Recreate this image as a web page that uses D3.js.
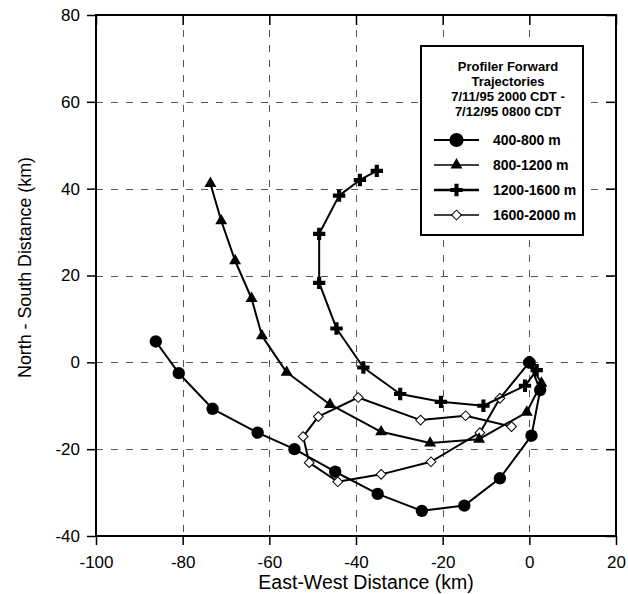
<!DOCTYPE html>
<html>
<head>
<meta charset="utf-8">
<script src="https://cdn.jsdelivr.net/npm/d3@7"></script>
<style>
  html, body { margin: 0; padding: 0; background: #fff; }
  svg { display: block; }
  text { font-family: "Liberation Sans", Arial, sans-serif; fill: #000; }
</style>
</head>
<body>
<div id="chart"></div>
<script>
// Forward trajectories of profiler-layer air parcels, positions in km from the profiler site.
// Each layer: [east-west, north-south] pairs in time order, starting at the origin.
const layer400to800 = [
  [0, 0], [2.5, -6.4], [0.5, -16.9], [-6.8, -26.7], [-15.0, -33.0], [-24.8, -34.2],
  [-35.0, -30.3], [-44.8, -25.2], [-54.2, -20.0], [-62.7, -16.2], [-73.1, -10.7],
  [-80.9, -2.5], [-86.2, 4.8]
];
const layer800to1200 = [
  [0, 0], [2.8, -4.8], [-0.6, -11.5], [-11.6, -17.7], [-22.9, -18.6], [-34.2, -16.0],
  [-46.0, -9.7], [-56.0, -2.3], [-61.7, 6.1], [-64.1, 14.7], [-67.9, 23.4],
  [-71.1, 32.6], [-73.6, 41.2]
];
const layer1200to1600 = [
  [0, 0], [1.7, -1.8], [-1.0, -5.4], [-10.6, -10.0], [-20.4, -9.1], [-29.8, -7.3],
  [-38.3, -1.2], [-44.5, 7.8], [-48.5, 18.3], [-48.5, 29.6], [-43.9, 38.4],
  [-39.1, 42.0], [-35.2, 44.1]
];
const layer1600to2000 = [
  [0, 0], [-6.8, -8.3], [-11.4, -16.2], [-22.7, -22.9], [-34.2, -25.8], [-44.2, -27.5],
  [-50.8, -23.1], [-52.2, -17.1], [-48.7, -12.5], [-39.5, -8.1], [-25.1, -13.3],
  [-14.7, -12.3], [-4.1, -14.8]
];

const seriesNames = ["400-800 m", "800-1200 m", "1200-1600 m", "1600-2000 m"];
const xTicks = [-100, -80, -60, -40, -20, 0, 20];
const yTicks = [-40, -20, 0, 20, 40, 60, 80];
const legendTitle = ["Profiler Forward", "Trajectories", "7/11/95 2000 CDT -", "7/12/95 0800 CDT"];
const xTitle = "East-West Distance (km)";
const yTitle = "North - South Distance (km)";

const W = 628, H = 594;
const plot = { left: 96, right: 616, top: 15, bottom: 536 };

const x = d3.scaleLinear().domain([-100, 20]).range([plot.left, plot.right]);
const y = d3.scaleLinear().domain([-40, 80]).range([plot.bottom, plot.top]);

// Plain hyphen-minus for negative tick values
const tickFmt = d => String(d);

const svg = d3.select("#chart").append("svg")
  .attr("width", W).attr("height", H);

// Dashed grid on interior ticks
const grid = svg.append("g").attr("class", "grid")
  .attr("stroke", "#555").attr("stroke-width", 1).attr("stroke-dasharray", "7,8");
grid.selectAll("line.v").data(xTicks.filter(v => v > -100 && v < 20)).join("line")
  .attr("class", "v")
  .attr("x1", d => Math.round(x(d)) + 0.5).attr("x2", d => Math.round(x(d)) + 0.5)
  .attr("y1", plot.top).attr("y2", plot.bottom);
grid.selectAll("line.h").data(yTicks.filter(v => v > -40 && v < 80)).join("line")
  .attr("class", "h")
  .attr("y1", d => Math.round(y(d)) + 0.5).attr("y2", d => Math.round(y(d)) + 0.5)
  .attr("x1", plot.left).attr("x2", plot.right);

// Axes: labelled ticks out on left/bottom, plain ticks in on top/right
function styleAxis(g, fontSize) {
  g.select(".domain").remove();
  g.selectAll(".tick line").attr("stroke", "#000").attr("stroke-width", 1.5);
  g.selectAll(".tick text").attr("font-size", fontSize).attr("fill", "#000")
    .attr("font-family", "'Liberation Sans', Arial, sans-serif");
}
svg.append("g").attr("transform", `translate(${plot.left},0)`)
  .call(d3.axisLeft(y).tickValues(yTicks).tickSize(9).tickPadding(7).tickFormat(tickFmt))
  .call(g => styleAxis(g, 17));
svg.append("g").attr("transform", `translate(0,${plot.bottom})`)
  .call(d3.axisBottom(x).tickValues(xTicks).tickSize(9).tickPadding(11).tickFormat(tickFmt))
  .call(g => styleAxis(g, 17));
svg.append("g").attr("transform", `translate(0,${plot.top})`)
  .call(d3.axisTop(x).tickValues(xTicks).tickSize(-10).tickFormat(""))
  .call(g => styleAxis(g, 17));
svg.append("g").attr("transform", `translate(${plot.right},0)`)
  .call(d3.axisRight(y).tickValues(yTicks).tickSize(-10).tickFormat(""))
  .call(g => styleAxis(g, 17));

// Frame
svg.append("rect")
  .attr("x", plot.left).attr("y", plot.top)
  .attr("width", plot.right - plot.left).attr("height", plot.bottom - plot.top)
  .attr("fill", "none").attr("stroke", "#000").attr("stroke-width", 2);

// Marker shapes
const markerDefs = {
  circle:   { path: d3.symbol(d3.symbolCircle, 120)(), fill: "#000", stroke: "none", rot: 0 },
  triangle: { path: d3.symbol(d3.symbolTriangle, 62)(), fill: "#000", stroke: "none", rot: 0 },
  cross:    { path: d3.symbol(d3.symbolCross, 85)(), fill: "#000", stroke: "none", rot: 0 },
  diamond:  { path: d3.symbol(d3.symbolSquare, 48)(), fill: "#fff", stroke: "#000", rot: 45 }
};

const series = [
  { name: seriesNames[3], data: layer1600to2000, marker: "diamond", width: 2 },
  { name: seriesNames[1], data: layer800to1200, marker: "triangle", width: 2 },
  { name: seriesNames[2], data: layer1200to1600, marker: "cross", width: 2 },
  { name: seriesNames[0], data: layer400to800, marker: "circle", width: 2 }
];

const line = d3.line().x(d => x(d[0])).y(d => y(d[1]));

const layers = svg.append("g").attr("class", "series");
series.forEach(s => {
  const g = layers.append("g");
  g.append("path").datum(s.data)
    .attr("d", line)
    .attr("fill", "none")
    .attr("stroke", "#000")
    .attr("stroke-width", s.width)
    .attr("stroke-linejoin", "round");
  const m = markerDefs[s.marker];
  g.selectAll("path.mk").data(s.data).join("path")
    .attr("class", "mk")
    .attr("d", m.path)
    .attr("fill", m.fill)
    .attr("stroke", m.stroke)
    .attr("stroke-width", 1)
    .attr("transform", d => `translate(${x(d[0])},${y(d[1])}) rotate(${m.rot})`);
});

// Legend
const legend = { x0: 421, y0: 46, x1: 583, y1: 235 };
const lg = svg.append("g").attr("class", "legend");
lg.append("rect")
  .attr("x", legend.x0).attr("y", legend.y0)
  .attr("width", legend.x1 - legend.x0).attr("height", legend.y1 - legend.y0)
  .attr("fill", "#fff").attr("stroke", "#000").attr("stroke-width", 2);
lg.selectAll("text.title").data(legendTitle).join("text")
  .attr("class", "title")
  .attr("x", 508).attr("y", (d, i) => 71 + i * 15)
  .attr("text-anchor", "middle")
  .attr("font-size", 13).attr("font-weight", "bold")
  .text(d => d);

const legendItems = [
  { name: seriesNames[0], marker: "circle", width: 2 },
  { name: seriesNames[1], marker: "triangle", width: 1.5 },
  { name: seriesNames[2], marker: "cross", width: 2.5 },
  { name: seriesNames[3], marker: "diamond", width: 1.5 }
];
const item = lg.selectAll("g.item").data(legendItems).join("g")
  .attr("class", "item")
  .attr("transform", (d, i) => `translate(0,${140 + i * 25})`);
item.append("line")
  .attr("x1", 434).attr("x2", 479).attr("y1", 0).attr("y2", 0)
  .attr("stroke", "#000").attr("stroke-width", d => d.width);
item.append("path")
  .attr("d", d => markerDefs[d.marker].path)
  .attr("fill", d => markerDefs[d.marker].fill)
  .attr("stroke", d => markerDefs[d.marker].stroke)
  .attr("stroke-width", 1)
  .attr("transform", d => `translate(456.5,0) rotate(${markerDefs[d.marker].rot}) scale(${d.marker === "circle" ? 1.15 : 1})`);
item.append("text")
  .attr("x", 493).attr("y", 5)
  .attr("font-size", 14).attr("font-weight", "bold")
  .text(d => d.name);

// Axis titles
svg.append("text")
  .attr("x", 366).attr("y", 589)
  .attr("text-anchor", "middle")
  .attr("font-size", 19.5)
  .text(xTitle);
svg.append("text")
  .attr("transform", `translate(31,${(378 + 157) / 2}) rotate(-90)`)
  .attr("text-anchor", "middle")
  .attr("font-size", 19)
  .attr("textLength", 221).attr("lengthAdjust", "spacingAndGlyphs")
  .text(yTitle);
</script>
</body>
</html>
